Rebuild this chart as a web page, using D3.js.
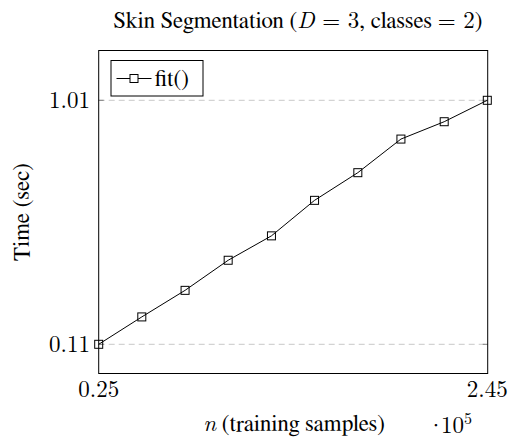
<!DOCTYPE html>
<html>
<head>
<meta charset="utf-8">
<script src="https://cdn.jsdelivr.net/npm/d3@7"></script>
<style>
  html, body { margin: 0; padding: 0; background: #fff; }
</style>
</head>
<body>
<svg id="chart" width="510" height="441"></svg>
<script>
// Training-set sizes (in units of 10^5) and fit() timings in seconds
const samples = [0.25, 0.494, 0.739, 0.983, 1.228, 1.472, 1.717, 1.961, 2.206, 2.45];
const fitTime = [0.11, 0.211, 0.309, 0.42, 0.51, 0.641, 0.743, 0.867, 0.931, 1.01];
const xTicks = [0.25, 2.45];
const yTicks = [0.11, 1.01];

const TEXT_FONT = 'FreeSerif, "Liberation Serif", "Times New Roman", serif';
const MATH_FONT = '"Latin Modern Roman", FreeSerif, serif';
const fontSize = 23;

const svg = d3.select("#chart");

const plot = { left: 98.7, right: 487.7, top: 50, bottom: 373 };

const x = d3.scaleLinear().domain([0.25, 2.45]).range([plot.left, plot.right - 0.4]);
const y = d3.scaleLinear().domain([0.11, 1.01]).range([344.3, 100.3]);

// Dashed horizontal grid lines at the y ticks
svg.append("g")
  .selectAll("line")
  .data(yTicks)
  .join("line")
  .attr("x1", plot.left).attr("x2", plot.right)
  .attr("y1", d => y(d)).attr("y2", d => y(d))
  .attr("stroke", "#c8c8c8")
  .attr("stroke-width", 1)
  .attr("stroke-dasharray", "6,4");

// Small inward tick marks on both vertical sides
const tickG = svg.append("g").attr("stroke", "#808080").attr("stroke-width", 1);
yTicks.forEach(t => {
  tickG.append("line").attr("x1", plot.left).attr("x2", plot.left + 5)
    .attr("y1", y(t)).attr("y2", y(t));
  tickG.append("line").attr("x1", plot.right - 5).attr("x2", plot.right)
    .attr("y1", y(t)).attr("y2", y(t));
});

// Plot frame
svg.append("rect")
  .attr("x", plot.left).attr("y", plot.top + 0.5)
  .attr("width", plot.right - plot.left).attr("height", plot.bottom - plot.top)
  .attr("fill", "none").attr("stroke", "#000").attr("stroke-width", 1);

// Y tick labels
svg.append("g")
  .selectAll("text")
  .data(yTicks)
  .join("text")
  .attr("x", 90).attr("y", d => y(d) + 8)
  .attr("text-anchor", "end")
  .style("font-family", MATH_FONT)
  .style("font-size", fontSize + "px")
  .text(d => d3.format(".2f")(d));

// X tick labels
svg.append("g")
  .selectAll("text")
  .data(xTicks)
  .join("text")
  .attr("x", d => x(d)).attr("y", 397)
  .attr("text-anchor", "middle")
  .style("font-family", MATH_FONT)
  .style("font-size", fontSize + "px")
  .text(d => d3.format(".2f")(d));

// Series line and square markers
const line = d3.line().x((d, i) => x(samples[i])).y(d => y(d));
svg.append("path")
  .datum(fitTime)
  .attr("d", line)
  .attr("fill", "none")
  .attr("stroke", "#000")
  .attr("stroke-width", 1);

const ms = 8;
svg.append("g")
  .selectAll("rect")
  .data(fitTime)
  .join("rect")
  .attr("x", (d, i) => x(samples[i]) - ms / 2)
  .attr("y", d => y(d) - ms / 2)
  .attr("width", ms).attr("height", ms)
  .attr("fill", "none")
  .attr("stroke", "#000")
  .attr("stroke-width", 1);

// Legend
const lg = svg.append("g");
lg.append("rect")
  .attr("x", 111).attr("y", 60.5).attr("width", 92).attr("height", 35.5)
  .attr("fill", "#fff").attr("stroke", "#000").attr("stroke-width", 1);
lg.append("line")
  .attr("x1", 116.5).attr("x2", 151.5).attr("y1", 78.5).attr("y2", 78.5)
  .attr("stroke", "#000").attr("stroke-width", 1);
lg.append("rect")
  .attr("x", 134 - ms / 2).attr("y", 78.5 - ms / 2).attr("width", ms).attr("height", ms)
  .attr("fill", "#fff").attr("stroke", "#000").attr("stroke-width", 1);
lg.append("text")
  .attr("x", 155).attr("y", 86)
  .style("font-family", TEXT_FONT)
  .style("font-size", fontSize + "px")
  .text("fit()");

// Mixed text/math label helper: parts = [[string, isMath, italic]]
function mixed(sel, parts) {
  parts.forEach(([s, math, ital]) => {
    sel.append("tspan")
      .style("font-family", math ? MATH_FONT : TEXT_FONT)
      .style("font-style", ital ? "italic" : "normal")
      .text(s);
  });
  return sel;
}

// Title
const title = svg.append("text")
  .attr("x", 298).attr("y", 28)
  .attr("text-anchor", "middle")
  .style("font-size", fontSize + "px")
  .attr("xml:space", "preserve");
mixed(title, [
  ["Skin Segmentation (", false, false],
  ["D", true, true],
  [" = 3", true, false],
  [", classes ", false, false],
  ["= 2", true, false],
  [")", false, false]
]);

// Axis labels
const xl = svg.append("text")
  .attr("x", 294).attr("y", 431)
  .attr("text-anchor", "middle")
  .style("font-size", fontSize + "px")
  .attr("xml:space", "preserve");
mixed(xl, [["n", true, true], [" (training samples)", false, false]]);

const sci = svg.append("text")
  .attr("x", 427).attr("y", 433)
  .style("font-family", MATH_FONT)
  .style("font-size", fontSize + "px");
sci.append("tspan").text("·");
sci.append("tspan").attr("dx", -4).text("10");
sci.append("tspan").style("font-size", "16px").attr("dy", -9).text("5");

svg.append("text")
  .attr("transform", "translate(29,212) rotate(-90)")
  .attr("text-anchor", "middle")
  .style("font-family", TEXT_FONT)
  .style("font-size", fontSize + "px")
  .text("Time (sec)");
</script>
</body>
</html>
